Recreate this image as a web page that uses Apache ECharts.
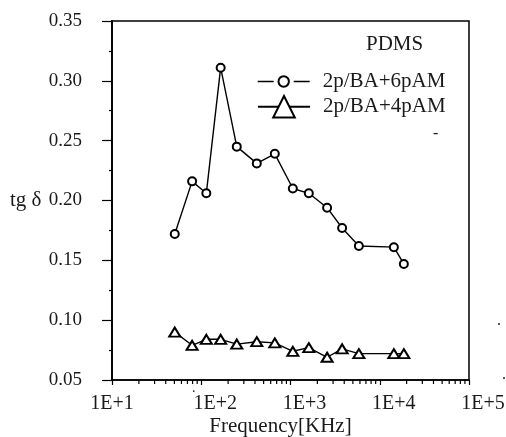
<!DOCTYPE html>
<html>
<head>
<meta charset="utf-8">
<script src="https://cdn.jsdelivr.net/npm/echarts@6/dist/echarts.min.js"></script>
<style>
  html, body { margin: 0; background: #fff; }
  #chart { width: 506px; height: 437px; }
</style>
</head>
<body>
<div id="chart"></div>
<script>
// Frequency in KHz
const freq = [50.5, 79, 114, 165, 250, 419, 667, 1062, 1604, 2572, 3788, 5834, 14390, 18620]
// tg delta values
const tan6pAM = [0.172, 0.216, 0.206, 0.311, 0.245, 0.231, 0.239, 0.210, 0.206, 0.194, 0.177, 0.162, 0.161, 0.147]
const tan4pAM = [0.090, 0.079, 0.084, 0.084, 0.080, 0.082, 0.081, 0.074, 0.077, 0.069, 0.076, 0.072, 0.072, 0.072]
const xTickLabels = ['1E+1', '1E+2', '1E+3', '1E+4', '1E+5']
const seriesNames = ['2p/BA+6pAM', '2p/BA+4pAM']

const FONT = '"Liberation Serif", "DejaVu Serif", serif'
const INK = '#1a1a1a'
const Y_MIN = 0.05

// minor ticks of the log axis at 2..9 of each decade
const minorTicks = []
for (let d = 10; d < 100000; d *= 10) {
  for (let k = 2; k <= 9; k++) minorTicks.push(k * d)
}

const chart = echarts.init(document.getElementById('chart'))

chart.setOption({
  animation: false,
  backgroundColor: '#fff',
  grid: {
    left: 112, right: 37, top: 21, bottom: 57,
    outerBoundsMode: 'none',
    show: true, borderColor: '#000', borderWidth: 1.5, backgroundColor: 'transparent',
  },
  xAxis: {
    type: 'log',
    logBase: 10,
    min: 10,
    max: 100000,
    name: 'Frequency[KHz]',
    nameLocation: 'middle',
    nameGap: 36,
    nameMoveOverlap: false,
    nameTextStyle: { fontFamily: FONT, fontSize: 21, color: INK, padding: [0, 20, 0, 0] },
    axisLine: { lineStyle: { color: '#000', width: 1.5 } },
    axisTick: { inside: false, length: 5, lineStyle: { color: '#000', width: 1.2 } },
    axisLabel: {
      fontFamily: FONT, fontSize: 20, color: INK, margin: 14,
      // labels after the first sit a little right of their tick in the original
      formatter: (v) => {
        const i = Math.round(Math.log10(v)) - 1
        return i === 0 ? xTickLabels[i] : '{s|' + xTickLabels[i] + '}'
      },
      rich: { s: { fontFamily: FONT, fontSize: 20, color: INK, padding: [0, 0, 0, 28] } },
    },
    splitLine: { show: false },
  },
  yAxis: {
    type: 'value',
    min: Y_MIN,
    max: 0.35,
    interval: 0.05,
    axisLine: { show: true, lineStyle: { color: '#000', width: 1.8 } },
    axisTick: { inside: false, length: 10, lineStyle: { color: '#000', width: 1.2 } },
    minorTick: { show: true, splitNumber: 2, length: 3, lineStyle: { color: '#000', width: 1.2 } },
    axisLabel: {
      fontFamily: FONT, fontSize: 19, color: INK, margin: 30,
      formatter: (v) => v.toFixed(2),
    },
    splitLine: { show: false },
  },
  legend: [
    {
      data: [seriesNames[0]],
      left: 257, top: 71, padding: 0,
      itemWidth: 52, itemHeight: 13, itemGap: 0,
      lineStyle: { type: [16, 20], width: 1.4 },
      textStyle: { fontFamily: FONT, fontSize: 21, color: INK, padding: [0, 0, 0, 8] },
    },
    {
      data: [seriesNames[1]],
      left: 257, top: 95, padding: 0,
      itemWidth: 52, itemHeight: 27, itemGap: 0,
      textStyle: { fontFamily: FONT, fontSize: 21, color: INK, padding: [0, 0, 0, 8] },
    },
  ],
  graphic: [
    {
      type: 'text', left: 366, top: 34,
      style: { text: 'PDMS', font: '21px ' + FONT, fill: INK },
    },
    {
      type: 'text', left: 10, top: 190,
      style: { text: 'tg δ', font: '21px ' + FONT, fill: INK },
    },
    {
      type: 'text', left: 433, top: 126,
      style: { text: '-', font: '16px ' + FONT, fill: INK },
    },
    {
      type: 'text', left: 497, top: 313,
      style: { text: '.', font: '16px ' + FONT, fill: INK },
    },
    {
      type: 'text', left: 502, top: 367,
      style: { text: '.', font: '16px ' + FONT, fill: INK },
    },
    {
      type: 'text', left: 192, top: 381,
      style: { text: '.', font: '14px ' + FONT, fill: INK },
    },
  ],
  series: [
    {
      name: seriesNames[0],
      type: 'line',
      symbol: 'emptyCircle',
      symbolSize: 8,
      color: '#000',
      lineStyle: { color: '#000', width: 1.4 },
      itemStyle: { borderWidth: 1.4 },
      data: freq.map((f, i) => [f, tan6pAM[i]]),
      z: 3,
    },
    {
      name: seriesNames[1],
      type: 'line',
      symbol: 'emptyTriangle',
      symbolSize: [11, 9],
      color: '#000',
      lineStyle: { color: '#000', width: 1.4 },
      itemStyle: { borderWidth: 1.4 },
      data: freq.map((f, i) => [f, tan4pAM[i]]),
      z: 3,
    },
    {
      // log-spaced minor ticks under the x axis
      type: 'custom',
      silent: true,
      clip: false,
      data: minorTicks.map((v) => [v, Y_MIN]),
      renderItem: (params, api) => {
        const p = api.coord([api.value(0), api.value(1)])
        return {
          type: 'line',
          shape: { x1: p[0], y1: p[1], x2: p[0], y2: p[1] + 4 },
          style: { stroke: '#000', lineWidth: 1.2 },
        }
      },
      z: 1,
    },
  ],
})
</script>
</body>
</html>
